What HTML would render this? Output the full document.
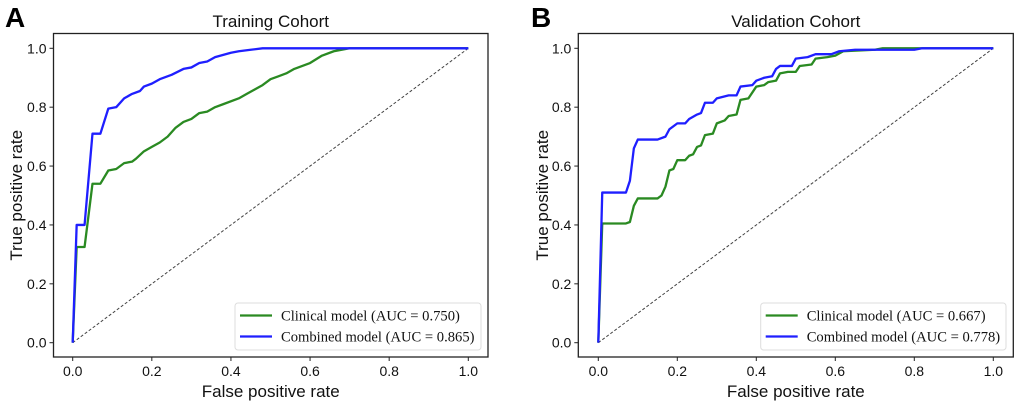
<!DOCTYPE html>
<html><head><meta charset="utf-8">
<style>
html,body{margin:0;padding:0;background:#fff;}
svg{display:block;}
.tick{font-family:"Liberation Sans","DejaVu Sans",sans-serif;font-size:14px;fill:#111;}
.axl{font-family:"Liberation Sans","DejaVu Sans",sans-serif;font-size:17px;fill:#111;}
.ttl{font-family:"Liberation Sans","DejaVu Sans",sans-serif;font-size:17px;fill:#111;}
.leg{font-family:"Liberation Serif","DejaVu Serif",serif;font-size:14.6px;fill:#111;}
.pl{font-family:"Liberation Sans","DejaVu Sans",sans-serif;font-size:28px;font-weight:bold;fill:#000;}
</style></head>
<body>
<svg id="fig" width="1020" height="405" xmlns="http://www.w3.org/2000/svg"></svg>
<script>
const ticks = [0, 0.2, 0.4, 0.6, 0.8, 1.0];
const tickLabels = ["0.0", "0.2", "0.4", "0.6", "0.8", "1.0"];
const titles = ["Training Cohort", "Validation Cohort"];
const panelLetters = ["A", "B"];
const legendA = ["Clinical model (AUC = 0.750)", "Combined model (AUC = 0.865)"];
const legendB = ["Clinical model (AUC = 0.667)", "Combined model (AUC = 0.778)"];

const clinicalA_fpr = [0,0.01,0.03,0.05,0.07,0.09,0.11,0.13,0.15,0.16,0.18,0.2,0.22,0.24,0.26,0.28,0.3,0.32,0.34,0.36,0.38,0.42,0.44,0.46,0.48,0.5,0.52,0.54,0.56,0.6,0.63,0.66,0.7,1];
const clinicalA_tpr = [0,0.325,0.325,0.54,0.54,0.585,0.59,0.61,0.615,0.625,0.65,0.665,0.68,0.70,0.73,0.75,0.76,0.78,0.785,0.80,0.81,0.83,0.845,0.86,0.875,0.895,0.905,0.915,0.93,0.95,0.975,0.99,1,1];
const combinedA_fpr = [0,0.01,0.03,0.05,0.07,0.09,0.11,0.13,0.15,0.17,0.18,0.2,0.22,0.25,0.28,0.3,0.32,0.34,0.36,0.4,0.42,0.45,0.48,1];
const combinedA_tpr = [0,0.40,0.40,0.71,0.71,0.795,0.80,0.83,0.845,0.855,0.87,0.88,0.895,0.91,0.93,0.935,0.95,0.955,0.97,0.985,0.99,0.995,1,1];
const clinicalB_fpr = [0,0.01,0.07,0.08,0.09,0.1,0.15,0.16,0.17,0.18,0.19,0.2,0.22,0.23,0.24,0.25,0.26,0.27,0.29,0.3,0.32,0.33,0.35,0.36,0.38,0.4,0.42,0.43,0.45,0.46,0.48,0.5,0.51,0.54,0.55,0.58,0.6,0.62,0.7,0.72,1];
const clinicalB_tpr = [0,0.405,0.405,0.41,0.465,0.49,0.49,0.50,0.53,0.585,0.59,0.62,0.62,0.635,0.64,0.665,0.67,0.705,0.71,0.745,0.755,0.77,0.775,0.825,0.83,0.87,0.875,0.885,0.89,0.915,0.92,0.92,0.94,0.945,0.965,0.97,0.975,0.99,0.995,1,1];
const combinedB_fpr = [0,0.01,0.07,0.08,0.09,0.1,0.15,0.17,0.18,0.2,0.22,0.23,0.25,0.26,0.27,0.29,0.3,0.33,0.35,0.36,0.39,0.4,0.42,0.44,0.45,0.46,0.49,0.5,0.53,0.55,0.59,0.61,0.65,0.8,0.82,1];
const combinedB_tpr = [0,0.51,0.51,0.55,0.66,0.69,0.69,0.70,0.725,0.745,0.745,0.76,0.775,0.78,0.815,0.815,0.83,0.84,0.84,0.87,0.875,0.89,0.90,0.905,0.93,0.94,0.94,0.965,0.97,0.98,0.98,0.99,0.995,0.995,1,1];

const NS = "http://www.w3.org/2000/svg";
const svg = document.getElementById("fig");
function mk(tag, attrs, parent){
  const e = document.createElementNS(NS, tag);
  for (const k in attrs) e.setAttribute(k, attrs[k]);
  (parent||svg).appendChild(e);
  return e;
}

const panels = [
  {key:"a", box:[53.5,33.5,488,357], x0:72.7, x1:468.3, leg:[235,303,481,350], ylx:22, letterX:5,
   legend:legendA, clin:[clinicalA_fpr,clinicalA_tpr], comb:[combinedA_fpr,combinedA_tpr]},
  {key:"b", box:[578.3,33.5,1013.3,357], x0:598.3, x1:993.3, leg:[760.7,303,1006,350], ylx:548, letterX:531,
   legend:legendB, clin:[clinicalB_fpr,clinicalB_tpr], comb:[combinedB_fpr,combinedB_tpr]}
];
const y0px = 342.7, y1px = 48.3;

panels.forEach((p, i) => {
  const g = mk("g", {});
  
  
  const sx = v => p.x0 + v*(p.x1-p.x0);
  const sy = v => y0px + v*(y1px-y0px);
  const [bx0,by0,bx1,by1] = p.box;

  const letter = mk("text", {x:p.letterX, y:27, class:"pl"}, g);
  letter.textContent = panelLetters[i];
  
  

  const t = mk("text", {x:(bx0+bx1)/2, y:27, class:"ttl", "text-anchor":"middle"}, g);
  t.textContent = titles[i];
  
  

  const d = mk("line", {x1:sx(0), y1:sy(0), x2:sx(1), y2:sy(1), stroke:"#444", "stroke-width":1, "stroke-dasharray":"3,2"}, g);
  
  

  function curve(arr, color, name){
    const pts = arr[0].map((f,j)=>sx(f).toFixed(2)+","+sy(arr[1][j]).toFixed(2)).join(" ");
    const pl = mk("polyline", {points:pts, fill:"none", stroke:color, "stroke-width":2.3, "stroke-linejoin":"round"}, g);
    
    
  }
  curve(p.clin, "#2a8a22", "clinical-roc-curve");
  curve(p.comb, "#1f1fff", "combined-roc-curve");

  const frame = mk("rect", {x:bx0, y:by0, width:bx1-bx0, height:by1-by0, fill:"none", stroke:"#222", "stroke-width":1.3}, g);
  
  

  ticks.forEach((v,k) => {
    mk("line", {x1:sx(v), y1:by1, x2:sx(v), y2:by1+4, stroke:"#222"}, g);
    const tx = mk("text", {x:sx(v), y:by1+19, class:"tick", "text-anchor":"middle"}, g);
    tx.textContent = tickLabels[k];
    
    
    mk("line", {x1:bx0-4, y1:sy(v), x2:bx0, y2:sy(v), stroke:"#222"}, g);
    const ty = mk("text", {x:bx0-7, y:sy(v)+5, class:"tick", "text-anchor":"end"}, g);
    ty.textContent = tickLabels[k];
    
    
  });

  const xl = mk("text", {x:(bx0+bx1)/2, y:397, class:"axl", "text-anchor":"middle"}, g);
  xl.textContent = "False positive rate";
  
  
  const yl = mk("text", {x:0, y:0, class:"axl", "text-anchor":"middle", transform:`translate(${p.ylx},${(by0+by1)/2}) rotate(-90)`}, g);
  yl.textContent = "True positive rate";
  
  

  const [lx0,ly0,lx1,ly1] = p.leg;
  const lg = mk("g", {}, g);
  
  
  mk("rect", {x:lx0, y:ly0, width:lx1-lx0, height:ly1-ly0, rx:3, fill:"#fff", "fill-opacity":0.85, stroke:"#ddd"}, lg);
  [["#2a8a22",0],["#1f1fff",1]].forEach(([c,k]) => {
    const yy = ly0 + 12.5 + k*21;
    const e = mk("g", {}, lg);
    
    
    mk("line", {x1:lx0+5, y1:yy, x2:lx0+37, y2:yy, stroke:c, "stroke-width":2.3}, e);
    const tt = mk("text", {x:lx0+46, y:yy+5, class:"leg"}, e);
    tt.textContent = p.legend[k];
  });
});
</script>
</body></html>
